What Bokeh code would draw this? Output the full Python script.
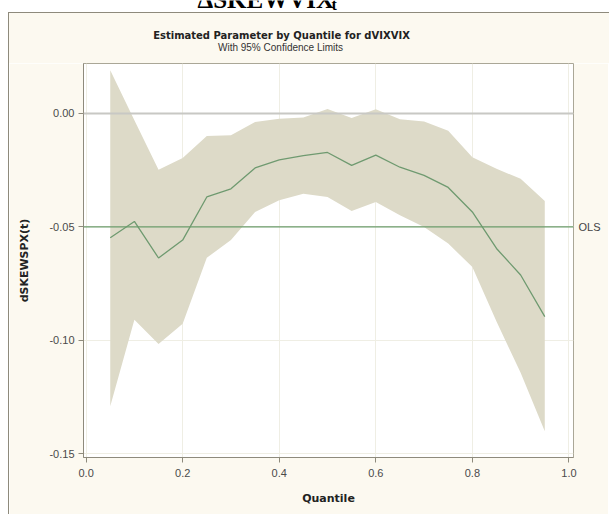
from bokeh.plotting import figure
from bokeh.models import Range1d, Span, LinearAxis, FixedTicker, PrintfTickFormatter
from bokeh.layouts import column
from bokeh.embed import file_html
from bokeh.resources import INLINE
from bokeh.core.properties import value

# ---- data ----
quantile = [0.05, 0.10, 0.15, 0.20, 0.25, 0.30, 0.35, 0.40, 0.45, 0.50,
            0.55, 0.60, 0.65, 0.70, 0.75, 0.80, 0.85, 0.90, 0.95]
estimate = [-0.0548, -0.0476, -0.0637, -0.0558, -0.0368, -0.0332, -0.0240, -0.0205, -0.0186, -0.0172,
            -0.0229, -0.0184, -0.0237, -0.0273, -0.0326, -0.0434, -0.0595, -0.0712, -0.0895]
upper = [0.0190, -0.0030, -0.0248, -0.0196, -0.0099, -0.0096, -0.0038, -0.0023, -0.0018, 0.0020,
         -0.0020, 0.0018, -0.0026, -0.0036, -0.0076, -0.0193, -0.0244, -0.0288, -0.0386]
lower = [-0.1290, -0.0909, -0.1016, -0.0927, -0.0636, -0.0558, -0.0434, -0.0383, -0.0354, -0.0368,
         -0.0430, -0.0390, -0.0449, -0.0500, -0.0573, -0.0677, -0.0917, -0.1143, -0.1400]
ols_value = -0.05
x_ticks = [0.0, 0.2, 0.4, 0.6, 0.8, 1.0]
y_ticks = [-0.15, -0.10, -0.05, 0.00]

CREAM = "#fcf9f0"
FRAME = "#8e8a7c"
SANS = "Liberation Sans"
BOLD = "DejaVu Sans"

# ---- heading strip: pixel coordinates, y downwards ----
head_bg = ("linear-gradient(to bottom, #ffffff 0px, #ffffff 12px, transparent 12px), "
           "linear-gradient(to right, #ffffff 0px, #ffffff 8px, " + FRAME + " 8px, " + FRAME + " 9px, transparent 9px), "
           "linear-gradient(to bottom, #ffffff 0px, #ffffff 12px, " + FRAME + " 12px, " + FRAME + " 13px, " + CREAM + " 13px)")
head = figure(width=609, height=63, x_range=Range1d(74, 573), y_range=Range1d(63, 0),
              output_backend="svg", toolbar_location=None,
              min_border_left=74, min_border_right=36, min_border_top=0, min_border_bottom=0,
              x_axis_location=None, y_axis_location=None,
              styles={"background": head_bg})
head.grid.visible = False
head.outline_line_color = None
head.background_fill_color = None
head.border_fill_color = None
head.text(x=[197], y=[-1], text=["ΔSKEWVIX"], text_font=value("Liberation Serif"),
          text_font_style="bold", text_font_size="25px", text_baseline="alphabetic",
          text_color="black")
head.text(x=[331], y=[4], text=["t"], text_font=value("Liberation Serif"),
          text_font_style="bold", text_font_size="16px", text_baseline="alphabetic",
          text_color="black")
head.text(x=[281], y=[35], text=["Estimated Parameter by Quantile for dVIXVIX"],
          text_font=value(BOLD), text_font_style="bold", text_font_size="10px",
          text_align="center", text_baseline="middle", text_color="#222222")
head.text(x=[280], y=[46.5], text=["With 95% Confidence Limits"],
          text_font=value(SANS), text_font_size="10px",
          text_align="center", text_baseline="middle", text_color="#333333")

# ---- main chart ----
p = figure(width=600, height=451,
           x_range=Range1d(-0.0054, 1.0095), y_range=Range1d(-0.1516, 0.022),
           output_backend="svg", toolbar_location=None,
           min_border_left=74, min_border_right=36, min_border_top=0, min_border_bottom=57,
           background_fill_color="white", border_fill_color=CREAM,
           styles={"border-left": "1px solid " + FRAME},
           margin=(0, 0, 0, 8))
p.outline_line_color = "#aaa797"
p.outline_line_width = 1

p.varea(x=quantile, y1=lower, y2=upper, fill_color="#dddac8", fill_alpha=1.0)
p.line(quantile, estimate, line_color="#6f9a70", line_width=1.3)

p.add_layout(Span(location=0.0, dimension="width", line_color="#c8c8c4", line_width=2))
p.add_layout(Span(location=ols_value, dimension="width", line_color="#6b9b6b", line_width=1.2))

# right axis carrying the "OLS" tag
ols_axis = LinearAxis(ticker=FixedTicker(ticks=[ols_value]),
                      major_label_overrides={ols_value: "OLS"})
ols_axis.axis_line_color = None
ols_axis.major_tick_line_color = None
ols_axis.minor_tick_line_color = None
ols_axis.major_tick_out = 0
ols_axis.major_tick_in = 0
ols_axis.major_label_standoff = 5
ols_axis.major_label_text_font = SANS
ols_axis.major_label_text_font_size = "11px"
ols_axis.major_label_text_color = "#444444"
p.add_layout(ols_axis, "right")

p.xaxis[0].ticker = FixedTicker(ticks=x_ticks)
p.xaxis[0].formatter = PrintfTickFormatter(format="%.1f")
p.yaxis[0].ticker = FixedTicker(ticks=y_ticks)
p.yaxis[0].formatter = PrintfTickFormatter(format="%.2f")
p.xgrid.ticker = FixedTicker(ticks=x_ticks)
p.ygrid.ticker = FixedTicker(ticks=y_ticks)
p.grid.grid_line_color = "#efeee4"

for ax in (p.xaxis[0], p.yaxis[0]):
    ax.axis_line_color = FRAME
    ax.major_tick_line_color = FRAME
    ax.major_tick_out = 5
    ax.major_tick_in = 0
    ax.minor_tick_out = 0
    ax.minor_tick_in = 0
    ax.major_label_text_font = SANS
    ax.major_label_text_font_size = "11px"
    ax.major_label_text_color = "#4a4a4a"
    ax.axis_label_text_font = BOLD
    ax.axis_label_text_font_style = "bold"
    ax.axis_label_text_font_size = "11px"
    ax.axis_label_text_color = "#222222"

p.xaxis[0].axis_label = "Quantile"
p.yaxis[0].axis_label = "dSKEWSPX(t)"
p.xaxis[0].major_label_standoff = 6
p.yaxis[0].major_label_standoff = 4
p.xaxis[0].axis_label_standoff = 12
p.yaxis[0].axis_label_standoff = 15

layout = column(head, p, spacing=0)
open("out.html", "w").write(file_html(layout, INLINE))
